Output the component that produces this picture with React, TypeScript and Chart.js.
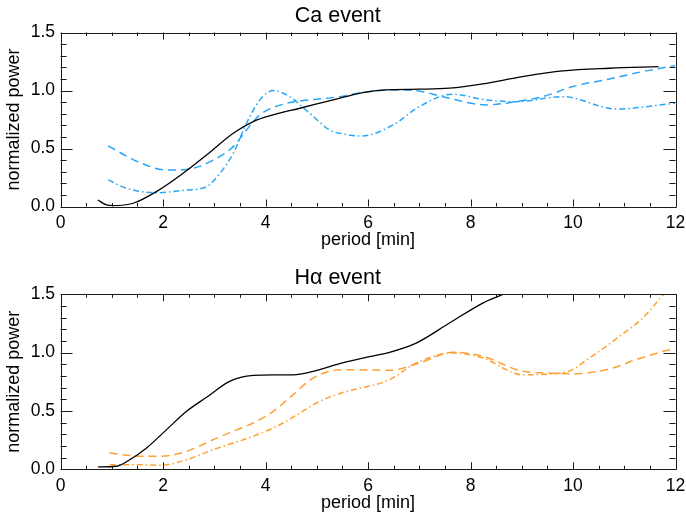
import React, { useEffect, useRef } from "react";
import { Chart, registerables } from "chart.js";

Chart.register(...registerables);

// ---------- Data ----------
const caTitle = "Ca event";
const haTitle = "H\u03b1 event";
const xAxisTitle = "period [min]";
const yAxisTitle = "normalized power";

const xTickStep = 2;
const yTickStep = 0.5;

// Ca event
const caSolidX = [0.73, 0.9, 1.03, 1.42, 1.87, 2.39, 2.85, 3.37, 3.76, 4.15, 4.67, 5.32, 5.9, 6.35, 7.0, 7.59, 8.24, 9.02, 9.8, 10.71, 11.67];
const caSolidY = [0.056, 0.013, 0.007, 0.028, 0.128, 0.286, 0.444, 0.632, 0.732, 0.79, 0.847, 0.919, 0.982, 1.005, 1.011, 1.02, 1.057, 1.12, 1.169, 1.192, 1.206];

const caDashX = [0.93, 1.55, 2.07, 2.46, 2.98, 3.37, 3.63, 3.89, 4.41, 4.86, 5.45, 5.9, 6.42, 6.94, 7.46, 8.3, 8.89, 9.41, 10.0, 10.71, 11.36, 11.99];
const caDashY = [0.522, 0.378, 0.315, 0.32, 0.4, 0.516, 0.66, 0.79, 0.89, 0.919, 0.947, 0.982, 1.005, 0.999, 0.947, 0.876, 0.904, 0.947, 1.034, 1.1, 1.163, 1.215];

const caDotDashX = [0.93, 1.29, 1.87, 2.46, 2.85, 3.11, 3.37, 3.63, 3.89, 4.15, 4.47, 4.86, 5.25, 5.51, 5.87, 6.49, 7.0, 7.65, 8.3, 8.89, 9.8, 10.84, 11.99];
const caDotDashY = [0.229, 0.157, 0.119, 0.142, 0.171, 0.286, 0.459, 0.718, 0.919, 0.999, 0.947, 0.804, 0.66, 0.626, 0.608, 0.703, 0.861, 0.968, 0.919, 0.904, 0.947, 0.841, 0.89];

// H-alpha event
const haSolidX = [0.73, 1.09, 1.35, 1.68, 2.07, 2.46, 2.85, 3.3, 3.76, 4.15, 4.54, 4.93, 5.48, 5.96, 6.42, 6.94, 7.59, 8.24, 8.63, 9.0];
const haSolidY = [0.02, 0.026, 0.082, 0.183, 0.34, 0.497, 0.617, 0.754, 0.805, 0.81, 0.81, 0.84, 0.911, 0.96, 1.003, 1.082, 1.254, 1.425, 1.5, 1.58];

const haDashX = [0.96, 1.29, 1.94, 2.46, 2.98, 3.37, 3.76, 4.15, 4.54, 4.93, 5.48, 6.42, 7.0, 7.65, 8.24, 9.02, 9.54, 10.0, 10.71, 11.23, 11.76, 12.0];
const haDashY = [0.14, 0.12, 0.111, 0.154, 0.254, 0.326, 0.397, 0.497, 0.64, 0.782, 0.854, 0.849, 0.911, 1.003, 0.968, 0.84, 0.825, 0.819, 0.86, 0.94, 1.011, 1.033];

const haDotDashX = [0.96, 1.42, 1.94, 2.46, 2.98, 3.37, 3.76, 4.28, 4.67, 5.06, 5.48, 6.42, 6.94, 7.65, 8.24, 9.02, 9.87, 10.32, 10.91, 11.36, 11.76, 12.0];
const haDotDashY = [0.04, 0.04, 0.034, 0.082, 0.168, 0.225, 0.283, 0.382, 0.482, 0.583, 0.654, 0.768, 0.911, 0.997, 0.954, 0.81, 0.834, 0.954, 1.14, 1.297, 1.497, 1.62];

// ---------- Styles ----------
const FONT = "'Liberation Sans', Arial, Helvetica, sans-serif";
const BLUE = "#27a6f7";
const ORANGE = "#ffa033";
const DASH = [8, 5];
const DOTDASH = [6, 3, 1.5, 3];

const zip = (xs: number[], ys: number[]) => xs.map((x, i) => ({ x, y: ys[i] }));

const framePlugin = {
  id: "idlFrame",
  afterDatasetsDraw(chart: any) {
    const { ctx, chartArea: a, scales } = chart;
    const x = scales.x;
    const y = scales.y;
    ctx.save();
    ctx.strokeStyle = "#1a1a1a";
    ctx.lineWidth = 1;
    ctx.beginPath();
    ctx.rect(Math.round(a.left) + 0.5, Math.round(a.top) + 0.5, Math.round(a.right - a.left), Math.round(a.bottom - a.top));
    for (let i = 0; i <= 24; i++) {
      const v = i * 0.5;
      const px = Math.round(x.getPixelForValue(v)) + 0.5;
      const len = i % 4 === 0 ? 7 : 3.5;
      ctx.moveTo(px, a.bottom);
      ctx.lineTo(px, a.bottom - len);
      ctx.moveTo(px, a.top);
      ctx.lineTo(px, a.top + len);
    }
    for (let i = 0; i <= 15; i++) {
      const v = i / 10;
      const py = Math.round(y.getPixelForValue(v)) + 0.5;
      const len = i % 5 === 0 ? 12 : 6;
      ctx.moveTo(a.left, py);
      ctx.lineTo(a.left + len, py);
      ctx.moveTo(a.right, py);
      ctx.lineTo(a.right - len, py);
    }
    ctx.stroke();
    ctx.restore();
  },
};

type Series = { x: number[]; y: number[]; color: string; dash: number[]; width: number };

function makeConfig(title: string, series: Series[], titlePad: { top: number; bottom: number }, xHeight: number, xTitleBottom: number) {
  return {
    type: "line" as const,
    data: {
      datasets: series.map((s) => ({
        data: zip(s.x, s.y),
        borderColor: s.color,
        borderWidth: s.width,
        borderDash: s.dash,
        pointRadius: 0,
        fill: false,
        tension: 0.35,
        cubicInterpolationMode: "monotone" as const,
      })),
    },
    options: {
      responsive: false,
      animation: false as const,
      devicePixelRatio: 1,
      layout: { padding: { left: 0, right: 10.5, top: 0, bottom: 0 } },
      plugins: {
        legend: { display: false },
        tooltip: { enabled: false },
        title: {
          display: true,
          text: title,
          color: "#000",
          font: { family: FONT, size: 21.5, weight: "normal" as const, lineHeight: 1.2 },
          padding: titlePad,
        },
      },
      scales: {
        x: {
          type: "linear" as const,
          min: 0,
          max: 12,
          grid: { display: false, drawTicks: false },
          border: { display: false },
          ticks: {
            stepSize: xTickStep,
            autoSkip: false,
            maxRotation: 0,
            color: "#000",
            padding: 6,
            font: { family: FONT, size: 17.5 },
          },
          title: {
            display: true,
            text: xAxisTitle,
            color: "#000",
            font: { family: FONT, size: 18, lineHeight: 1.2 },
            padding: { top: 0, bottom: xTitleBottom },
          },
          afterFit: (s: any) => {
            s.height = xHeight;
            s.paddingLeft = 0;
            s.paddingRight = 0;
          },
        },
        y: {
          type: "linear" as const,
          min: 0,
          max: 1.5,
          grid: { display: false, drawTicks: false },
          border: { display: false },
          ticks: {
            stepSize: yTickStep,
            color: "#000",
            padding: 5.5,
            font: { family: FONT, size: 17.5 },
            callback: (v: any) => Number(v).toFixed(1),
          },
          title: {
            display: true,
            text: yAxisTitle,
            color: "#000",
            font: { family: FONT, size: 18, lineHeight: 1.2 },
            padding: { top: 3, bottom: 0 },
          },
          afterFit: (s: any) => {
            s.width = 60.5;
            s.paddingTop = 0;
            s.paddingBottom = 0;
          },
        },
      },
    },
    plugins: [framePlugin],
  };
}

function ChartCanvas({ config }: { config: any }) {
  const ref = useRef<HTMLCanvasElement | null>(null);
  useEffect(() => {
    if (!ref.current) return;
    const chart = new Chart(ref.current, config);
    return () => chart.destroy();
  }, [config]);
  return <canvas ref={ref} width={686} height={258} style={{ display: "block", width: 686, height: 258 }} />;
}

const caConfig = makeConfig(
  caTitle,
  [
    { x: caSolidX, y: caSolidY, color: "#000", dash: [], width: 1.3 },
    { x: caDashX, y: caDashY, color: BLUE, dash: DASH, width: 1.5 },
    { x: caDotDashX, y: caDotDashY, color: BLUE, dash: DOTDASH, width: 1.5 },
  ],
  { top: 3, bottom: 3.7 },
  51.5,
  7.4
);

const haConfig = makeConfig(
  haTitle,
  [
    { x: haSolidX, y: haSolidY, color: "#000", dash: [], width: 1.3 },
    { x: haDashX, y: haDashY, color: ORANGE, dash: DASH, width: 1.5 },
    { x: haDotDashX, y: haDotDashY, color: ORANGE, dash: DOTDASH, width: 1.5 },
  ],
  { top: 7.6, bottom: 2.9 },
  46.7,
  2.2
);

export default function App() {
  useEffect(() => {
    document.body.style.margin = "0";
  }, []);
  return (
    <div style={{ position: "absolute", left: 0, top: 0, width: 686, height: 516, background: "#fff" }}>
      <ChartCanvas config={caConfig} />
      <ChartCanvas config={haConfig} />
    </div>
  );
}
